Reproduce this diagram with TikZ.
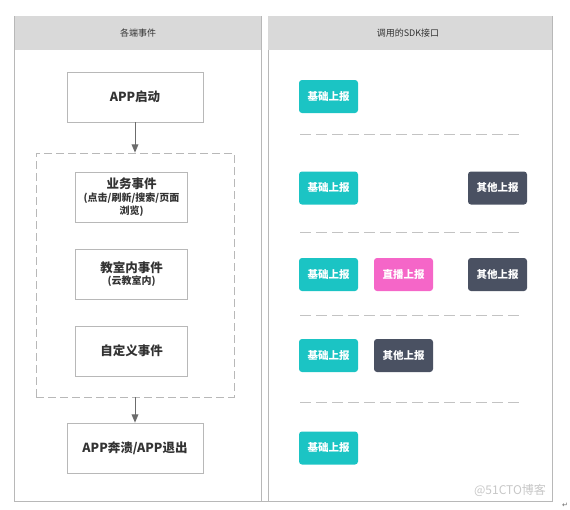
\documentclass[tikz,border=0pt]{standalone}
\usepackage{fontspec}
\setmainfont{Noto Sans CJK SC}
\newfontfamily\symb{DejaVu Sans}
\usepackage{xcolor}
\usepackage{tikz}
\usetikzlibrary{shapes.geometric, calc, arrows}
\definecolor{bordgris}{HTML}{B8B8B8}
\definecolor{entete}{HTML}{D9D9D9}
\definecolor{texte}{HTML}{333333}
\definecolor{turquoise}{HTML}{1BC4C4}
\definecolor{rose}{HTML}{F566C8}
\definecolor{ardoise}{HTML}{4A5162}
\tikzstyle{evenement} = [rectangle, draw=bordgris, line width=0.8pt, minimum height=50pt, minimum width=136pt, text centered, text=texte, font=\bfseries\fontsize{12.5}{14}\selectfont]
\tikzstyle{sousevt} = [evenement, minimum width=112pt, align=center]
\tikzstyle{bouton} = [rectangle, rounded corners=3pt, minimum height=33pt, minimum width=59pt, text=white, font=\bfseries\fontsize{10.5}{12}\selectfont]
\tikzstyle{separation} = [line width=1pt, draw=bordgris!85, dash pattern=on 11pt off 5pt]
\tikzstyle{fleche} = [-triangle 45, line width=0.9pt, draw=gray!85!black]

\begin{document}
\begin{tikzpicture}[x=1pt, y=-1pt]
    \useasboundingbox (0,0) rectangle (570,509);

    %% colonne de gauche
    \draw[bordgris, line width=0.8pt] (14.5,16) rectangle (261,501);
    \fill[entete] (14.5,16) rectangle (261,50);
    \node (titreG) [text=texte, font=\fontsize{9}{11}\selectfont] at (138,33) {各端事件};

    %% colonne de droite
    \draw[bordgris, line width=0.8pt] (268,16) rectangle (552,501);
    \fill[entete] (268,16) rectangle (552,50);
    \node (titreD) [text=texte, font=\fontsize{9}{11}\selectfont] at (408,33) {调用的SDK接口};

    %% ligne du bas
    \draw[bordgris, line width=0.8pt] (14.5,501) -- (552,501);

    %% evenements
    \node (demarrage) [evenement] at (135,97) {APP启动};
    \node (groupe) [rectangle, draw=bordgris, line width=0.8pt, dash pattern=on 8pt off 4pt, minimum width=198pt, minimum height=244pt] at (135,275) {};
    \node (metier) [sousevt] at (131.5,197) {业务事件\\[-1pt]{\fontsize{10}{11}\selectfont(点击/刷新/搜索/页面}\\[-1pt]{\fontsize{10}{11}\selectfont 浏览)}};
    \node (classe) [sousevt] at (131.5,274.5) {教室内事件\\[-2pt]{\fontsize{10}{11}\selectfont(云教室内)}};
    \node (perso) [sousevt] at (131.5,351) {自定义事件};
    \node (sortie) [evenement] at (135,448) {APP奔溃/APP退出};
    \draw[fleche] (demarrage) -- (groupe);
    \draw[fleche] (groupe) -- (sortie);

    %% boutons SDK
    \node (base1) [bouton, fill=turquoise] at (328.5,96.5) {基础上报};
    \draw[separation] (300,134) -- (522,134);
    \node (base2) [bouton, fill=turquoise] at (328.5,188) {基础上报};
    \node (autre2) [bouton, fill=ardoise] at (497.5,188) {其他上报};
    \draw[separation] (300,232) -- (522,232);
    \node (base3) [bouton, fill=turquoise] at (328.5,274.5) {基础上报};
    \node (direct3) [bouton, fill=rose] at (403.5,274.5) {直播上报};
    \node (autre3) [bouton, fill=ardoise] at (497.5,274.5) {其他上报};
    \draw[separation] (300,315) -- (522,315);
    \node (base4) [bouton, fill=turquoise] at (328.5,355.5) {基础上报};
    \node (autre4) [bouton, fill=ardoise] at (403.5,355.5) {其他上报};
    \draw[separation] (300,402) -- (522,402);
    \node (base5) [bouton, fill=turquoise] at (328.5,448) {基础上报};

    %% filigrane
    \node (filigrane) [text=black!22, font=\fontsize{12}{14}\selectfont] at (510,490) {@51CTO博客};
    \node (retour) [text=black!60, font=\symb\fontsize{7}{8}\selectfont] at (565,505) {↵};
\end{tikzpicture}
\end{document}
